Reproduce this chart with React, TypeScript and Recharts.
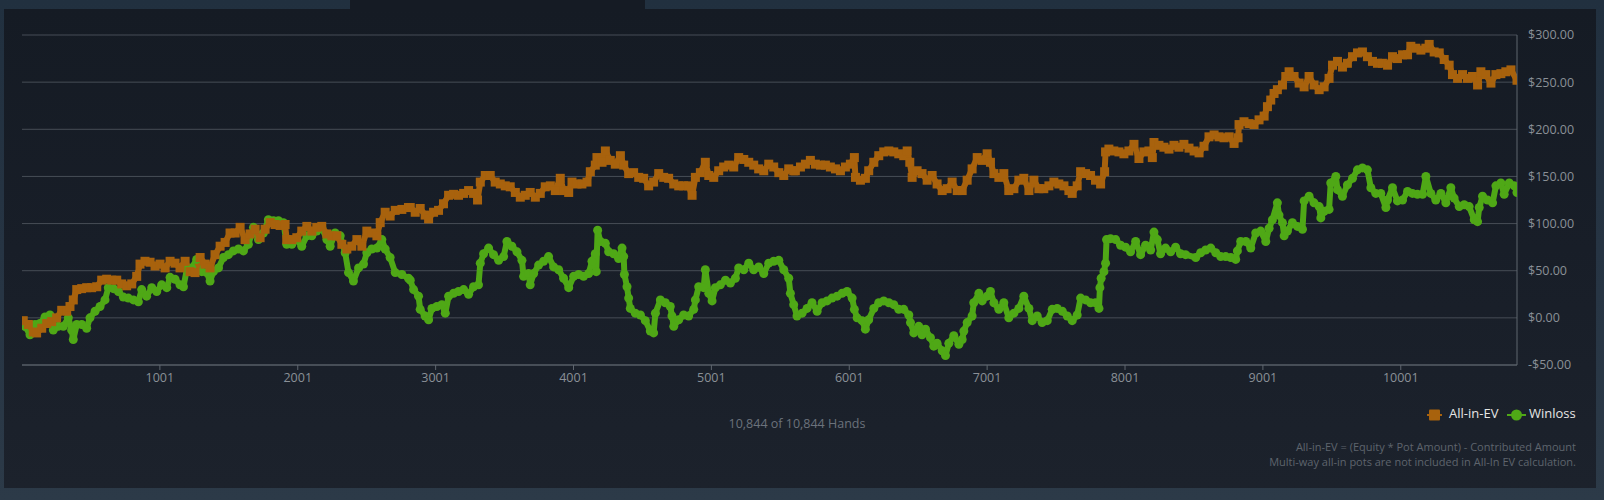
import React from 'react';
import { LineChart, Line, XAxis, YAxis, CartesianGrid } from 'recharts';

const EV_COLOR = '#a8620d';
const WL_COLOR = '#4fa816';

const seriesNames = ['All-in-EV', 'Winloss'];
const xTicks = [1001, 2001, 3001, 4001, 5001, 6001, 7001, 8001, 9001, 10001];
const yTicks = [-50, 0, 50, 100, 150, 200, 250, 300];
const handsLabel = '10,844 of 10,844 Hands';
const footnotes = [
  'All-in-EV = (Equity * Pot Amount) - Contributed Amount',
  'Multi-way all-in pots are not included in All-In EV calculation.',
];

// [hand, dollars]
const allInEv: [number, number][] = [
  [10,-3],[47,-7],[83,-15],[107,-16],[144,-11],[180,-6],[216,-4],[252,0],[289,8],[325,7],
  [349,12],[373,19],[398,30],[434,31],[470,32],[506,32],[543,33],[579,40],[615,41],[652,40],
  [688,40],[724,36],[760,34],[797,36],[833,44],[857,57],[893,60],[930,59],[966,55],[1002,57],
  [1039,53],[1075,60],[1111,58],[1147,53],[1184,60],[1220,49],[1256,48],[1293,64],[1329,57],[1365,53],
  [1401,67],[1438,76],[1474,80],[1510,90],[1547,90],[1583,96],[1619,83],[1655,89],[1692,94],[1728,85],
  [1764,94],[1801,101],[1837,99],[1873,98],[1909,99],[1921,83],[1958,83],[1994,85],[2030,92],[2067,97],
  [2103,92],[2139,96],[2175,97],[2212,89],[2248,87],[2284,87],[2321,78],[2357,73],[2393,76],[2430,83],
  [2466,76],[2502,92],[2538,90],[2575,87],[2599,101],[2635,112],[2671,108],[2708,114],[2756,115],[2804,117],
  [2817,117],[2853,112],[2889,116],[2925,109],[2950,105],[2986,112],[3022,114],[3058,121],[3095,130],[3131,131],
  [3167,130],[3204,132],[3240,135],[3276,132],[3305,125],[3325,144],[3361,151],[3397,151],[3433,144],[3470,142],
  [3506,140],[3542,139],[3579,133],[3615,128],[3651,130],[3687,133],[3724,128],[3760,132],[3796,139],[3833,140],
  [3869,135],[3905,148],[3929,135],[3966,133],[3990,144],[4026,142],[4062,142],[4099,144],[4123,155],[4159,162],
  [4171,170],[4208,165],[4232,177],[4268,167],[4304,163],[4341,172],[4365,162],[4401,153],[4437,154],[4474,149],
  [4510,148],[4546,140],[4582,144],[4619,153],[4655,149],[4691,148],[4728,142],[4764,140],[4800,140],[4836,140],
  [4861,130],[4885,149],[4921,154],[4957,165],[4982,151],[5018,149],[5054,156],[5090,160],[5127,162],[5163,160],
  [5199,170],[5236,168],[5272,165],[5308,162],[5344,158],[5381,156],[5417,163],[5453,160],[5490,154],[5526,151],
  [5562,158],[5598,156],
  [5610,156],[5647,160],[5683,163],[5719,167],[5755,163],[5792,162],[5828,162],[5864,160],[5901,158],[5937,156],
  [5973,160],[6009,163],[6038,170],[6046,149],[6082,146],[6118,148],[6142,156],[6179,165],[6215,172],[6251,176],
  [6288,177],[6324,176],[6360,174],[6396,172],[6421,177],[6440,165],[6457,149],[6493,156],[6529,153],[6566,146],
  [6602,151],[6638,142],[6675,135],[6711,137],[6747,144],[6784,135],[6820,135],[6856,146],[6892,158],[6929,170],
  [6965,167],[7001,174],[7025,165],[7050,153],[7086,149],[7122,153],[7158,135],[7195,137],[7231,146],[7267,148],
  [7304,135],[7340,146],[7376,137],[7412,137],[7449,140],[7485,144],[7521,142],[7558,140],[7594,135],[7618,132],
  [7654,140],[7679,155],[7715,153],[7751,151],[7787,146],[7824,142],[7853,155],[7860,176],[7884,179],[7920,177],
  [7957,176],[7993,174],[8029,177],[8066,184],[8102,169],[8138,176],[8174,177],[8199,170],[8211,186],[8247,183],
  [8283,181],[8320,179],[8356,183],[8392,181],[8428,184],
  [8465,180],[8502,177],[8538,175],[8574,182],[8610,192],[8647,194],[8683,192],[8719,191],[8756,192],[8792,185],
  [8821,191],[8828,205],[8864,208],[8901,206],[8937,205],[8973,210],[9010,214],[9034,224],[9058,231],[9082,238],
  [9106,242],[9143,247],[9167,256],[9191,261],[9227,256],[9264,249],[9300,245],[9336,256],[9372,247],[9409,242],
  [9445,245],[9481,254],[9506,268],[9542,272],[9578,266],[9614,270],[9651,277],[9687,281],[9723,282],[9759,277],
  [9796,272],[9832,270],[9868,270],[9905,268],[9941,277],[9977,275],[10014,279],[10050,279],[10074,288],[10110,286],
  [10147,284],[10183,286],[10207,290],[10243,282],[10280,281],[10316,274],[10352,268],[10376,258],[10413,254],[10449,258],
  [10485,254],[10521,256],[10558,247],[10582,261],[10618,258],[10655,249],[10691,258],[10727,259],[10763,261],[10800,263],
  [10844,252],
];

const winloss: [number, number][] = [
  [23,-9],[59,-18],[95,-7],[131,-6],[168,1],[204,3],[228,-13],[264,-9],[301,-9],[337,0],
  [361,-13],[373,-23],[398,-7],[434,-7],[470,-11],[494,0],[531,7],[567,12],[603,19],[627,32],
  [664,31],[700,28],[736,22],[772,21],[809,19],[845,17],[869,30],[905,23],[942,32],[978,28],
  [1014,35],[1051,32],[1075,43],[1111,41],[1147,35],[1172,33],[1196,51],[1232,53],[1268,62],[1305,49],
  [1341,48],[1365,39],[1389,49],[1426,53],[1462,64],[1498,67],[1534,71],[1571,73],[1607,71],[1643,78],
  [1680,96],[1716,83],[1752,90],[1788,104],[1825,103],[1861,103],[1897,101],[1921,78],[1958,78],[1994,83],
  [2030,76],[2067,87],[2103,87],[2139,92],[2175,96],[2212,83],[2236,76],[2272,90],[2309,87],[2345,69],
  [2369,48],[2405,39],[2442,53],[2478,57],[2502,69],[2538,73],[2575,74],[2611,83],[2635,73],[2671,64],
  [2708,48],[2756,46],[2804,42],
  [2817,40],[2841,30],[2877,23],[2889,9],[2925,2],[2950,-2],[2974,10],[3010,12],[3046,14],[3071,5],
  [3095,23],[3131,26],[3167,28],[3204,30],[3240,25],[3276,33],[3312,35],[3325,58],[3349,68],[3385,74],
  [3421,67],[3458,61],[3494,65],[3518,81],[3554,76],[3591,70],[3627,61],[3639,44],[3675,47],[3687,35],
  [3712,47],[3748,56],[3784,60],[3820,65],[3857,54],[3893,51],[3929,42],[3966,32],[4002,44],[4038,46],
  [4074,44],[4111,47],[4135,60],[4159,68],[4166,49],[4176,93],[4195,81],[4232,79],[4256,70],[4292,68],
  [4328,63],[4353,74],[4365,65],[4370,46],[4389,33],[4401,21],[4413,10],[4449,5],[4486,3],[4522,-3],
  [4558,-14],[4582,-16],[4595,5],[4631,19],[4667,16],[4703,12],[4715,2],[4728,-9],[4764,-2],[4800,3],
  [4836,2],[4873,9],[4885,19],[4909,33],[4945,32],[4957,51],[4982,26],[5006,18],[5030,32],[5066,35],
  [5103,40],[5139,37],[5175,42],[5199,53],[5236,51],[5272,58],[5308,51],[5344,54],[5381,47],[5417,58],
  [5453,60],[5490,61],[5526,51],[5562,42],[5574,26],[5598,14],
  [5622,2],[5659,5],[5695,10],[5731,16],[5768,7],[5804,16],[5840,18],[5876,21],[5913,23],[5949,26],
  [5985,28],[6022,21],[6038,9],[6058,0],[6094,-3],[6118,-12],[6142,-2],[6179,10],[6215,16],[6251,18],
  [6288,16],[6324,14],[6360,9],[6396,9],[6433,3],[6445,-5],[6469,-16],[6505,-9],[6529,-18],[6554,-12],
  [6590,-21],[6614,-30],[6638,-27],[6675,-35],[6699,-40],[6723,-27],[6759,-19],[6796,-28],[6820,-23],[6832,-14],
  [6856,-5],[6892,2],[6904,16],[6941,26],[6965,18],[7001,23],[7025,28],[7050,16],[7086,9],[7122,16],
  [7158,0],[7195,5],[7231,10],[7267,23],[7304,10],[7328,-3],[7364,2],[7400,-5],[7437,-3],[7473,9],
  [7509,10],[7546,7],[7582,2],[7618,-3],[7654,3],[7679,21],[7715,19],[7751,16],[7787,16],[7812,10],
  [7819,32],[7828,42],[7848,49],[7860,58],[7867,83],[7896,84],[7933,83],[7969,77],[8005,75],[8041,70],
  [8078,81],[8114,67],[8150,77],[8187,72],[8211,91],[8235,83],[8259,68],[8295,74],[8332,70],[8368,75],
  [8404,68],[8440,67],
  [8514,64],[8550,69],[8586,72],[8623,74],[8659,69],[8695,65],[8731,65],[8768,64],[8804,62],[8816,71],
  [8840,81],[8877,81],[8913,74],[8949,90],[8985,92],[9022,81],[9046,95],[9070,104],[9106,122],[9118,109],
  [9143,101],[9155,87],[9179,92],[9215,101],[9252,97],[9288,94],[9300,124],[9336,129],[9372,122],[9409,118],
  [9421,106],[9445,113],[9481,115],[9493,143],[9530,150],[9542,136],[9578,129],[9614,141],[9651,148],[9687,157],
  [9723,159],[9759,157],[9784,138],[9820,132],[9856,132],[9893,117],[9905,125],[9941,138],[9977,124],[10014,125],
  [10050,134],[10086,132],[10122,131],[10159,131],[10183,150],[10219,132],[10255,125],[10292,132],[10328,122],[10364,138],
  [10388,127],[10425,118],[10461,120],[10497,118],[10534,104],[10558,102],[10570,117],[10594,129],[10630,125],[10667,122],
  [10691,140],[10727,143],[10751,131],[10788,143],[10824,140],[10844,133],
];

const evData = allInEv.map(([hand, value]) => ({ hand, value }));
const wlData = winloss.map(([hand, value]) => ({ hand, value }));

const fmtMoney = (v: number) => (v < 0 ? '-$' : '$') + Math.abs(v).toFixed(2);

const FONT = '"Open Sans", "Noto Sans", sans-serif';
const axisTick = { fill: '#8a9097', fontSize: 12.5, fontFamily: FONT };

const SquareDot = (props: any) => {
  const { cx, cy, index } = props;
  if (cx == null || cy == null) return <g key={`sq-${index}`} />;
  return <rect key={`sq-${index}`} x={cx - 4.5} y={cy - 4.5} width={9} height={9} fill={EV_COLOR} />;
};

const RoundDot = (props: any) => {
  const { cx, cy, index } = props;
  if (cx == null || cy == null) return <g key={`rd-${index}`} />;
  return <circle key={`rd-${index}`} cx={cx} cy={cy} r={4.5} fill={WL_COLOR} />;
};

export default function App() {
  return (
    <div
      style={{
        position: 'absolute',
        left: 0,
        top: 0,
        width: 1604,
        height: 500,
        overflow: 'hidden',
        background: 'linear-gradient(180deg, #21303f 0%, #263443 50%, #2c3a48 100%)',
        fontFamily: FONT,
      }}
    >
      <div
        style={{
          position: 'absolute',
          left: 4,
          top: 9,
          width: 1592,
          height: 479,
          background: 'linear-gradient(180deg, #151b24 0%, #181e28 50%, #1c222c 100%)',
        }}
      />
      <div style={{ position: 'absolute', left: 350, top: 0, width: 295, height: 10, background: '#151b24' }} />
      <div style={{ position: 'absolute', left: 0, top: 0 }}>
        <LineChart width={1604} height={500} margin={{ top: 35, right: 0, bottom: 105, left: 22 }}>
          <CartesianGrid horizontal vertical={false} stroke="#474d56" strokeWidth={1} />
          <XAxis
            type="number"
            dataKey="hand"
            domain={[1, 10844]}
            ticks={xTicks}
            interval={0}
            allowDataOverflow
            height={30}
            tickSize={5}
            tickMargin={3}
            axisLine={{ stroke: '#5f666f' }}
            tickLine={{ stroke: '#5f666f' }}
            tick={axisTick}
          />
          <YAxis
            orientation="right"
            type="number"
            domain={[-50, 300]}
            ticks={yTicks}
            interval={0}
            width={87}
            tickFormatter={fmtMoney}
            axisLine={{ stroke: '#5f666f' }}
            tickLine={false}
            tickSize={6}
            tickMargin={5}
            tick={axisTick}
          />
          <Line
            data={wlData}
            dataKey="value"
            name={seriesNames[1]}
            type="linear"
            stroke={WL_COLOR}
            strokeWidth={6}
            strokeLinejoin="round"
            strokeLinecap="round"
            dot={RoundDot}
            activeDot={false}
            isAnimationActive={false}
          />
          <Line
            data={evData}
            dataKey="value"
            name={seriesNames[0]}
            type="linear"
            stroke={EV_COLOR}
            strokeWidth={6}
            strokeLinejoin="bevel"
            dot={SquareDot}
            activeDot={false}
            isAnimationActive={false}
          />
        </LineChart>
      </div>

      {/* Legend */}
      <svg style={{ position: 'absolute', left: 1427, top: 409 }} width={15} height={12}>
        <line x1={0} y1={6} x2={15} y2={6} stroke={EV_COLOR} strokeWidth={2} />
        <rect x={2} y={0.5} width={11} height={11} rx={1} fill={EV_COLOR} />
      </svg>
      <div
        style={{
          position: 'absolute',
          left: 1449,
          top: 404,
          height: 18,
          lineHeight: '18px',
          fontSize: 13,
          color: '#e6e6e6',
          whiteSpace: 'nowrap',
        }}
      >
        {seriesNames[0]}
      </div>
      <svg style={{ position: 'absolute', left: 1507, top: 409 }} width={19} height={12}>
        <line x1={0} y1={6} x2={19} y2={6} stroke={WL_COLOR} strokeWidth={2} />
        <circle cx={9.5} cy={6} r={5.5} fill={WL_COLOR} />
      </svg>
      <div
        style={{
          position: 'absolute',
          left: 1529,
          top: 404,
          height: 18,
          lineHeight: '18px',
          fontSize: 13,
          color: '#e6e6e6',
          whiteSpace: 'nowrap',
        }}
      >
        {seriesNames[1]}
      </div>

      {/* Hands count */}
      <div
        style={{
          position: 'absolute',
          left: 597,
          width: 400,
          top: 415,
          lineHeight: '18px',
          textAlign: 'center',
          fontSize: 12.5,
          color: '#6b727b',
        }}
      >
        {handsLabel}
      </div>

      {/* Footnote */}
      <div
        style={{
          position: 'absolute',
          right: 1604 - 1576,
          top: 439,
          lineHeight: '15px',
          textAlign: 'right',
          fontSize: 11,
          color: '#5e646d',
          whiteSpace: 'nowrap',
        }}
      >
        {footnotes.map((t) => (
          <div key={t}>{t}</div>
        ))}
      </div>
    </div>
  );
}
